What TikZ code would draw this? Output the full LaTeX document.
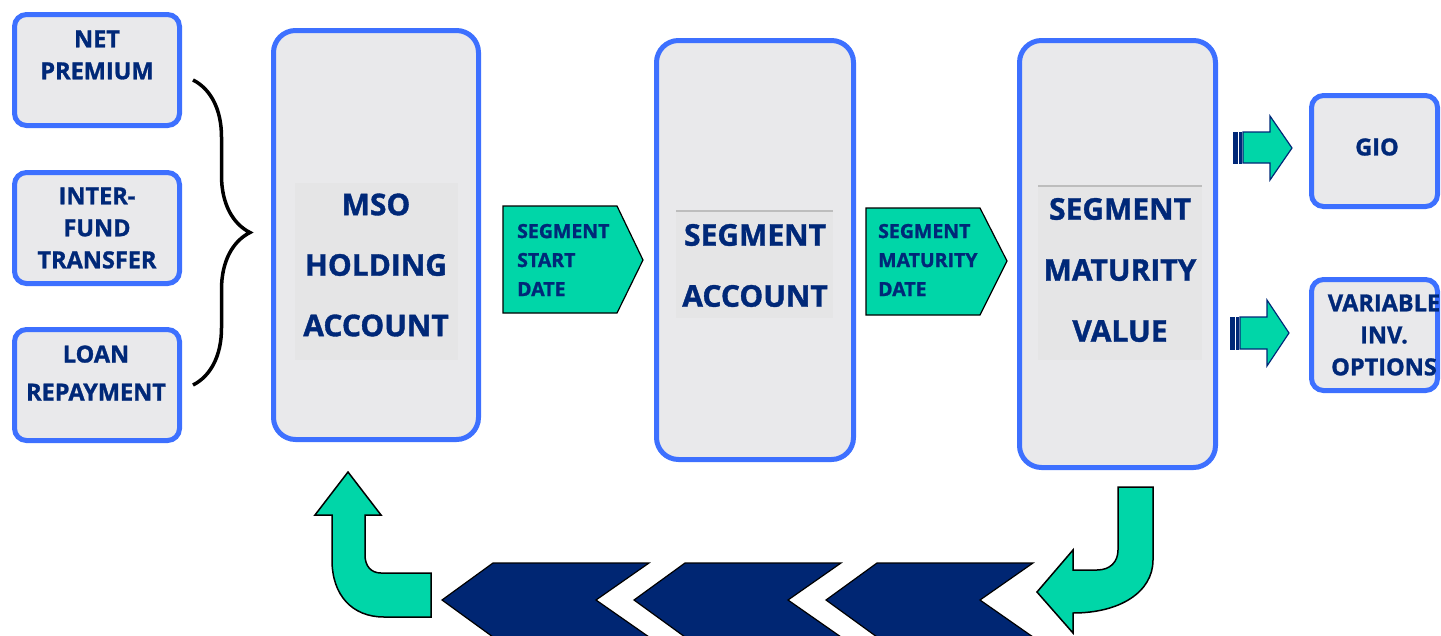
\documentclass[tikz,border=0pt]{standalone}
\usepackage{fontspec}
\setmainfont{Open Sans}[BoldFeatures={FakeBold=1.2}]
\usetikzlibrary{decorations.pathreplacing}
\definecolor{navy}{HTML}{002878}
\definecolor{chevnavy}{HTML}{002673}
\definecolor{flowteal}{HTML}{00D6A8}
\definecolor{boxblue}{HTML}{3D70FF}
\definecolor{boxfill}{HTML}{E9E9EB}
\definecolor{panelfill}{HTML}{E5E5E6}
\definecolor{panelrule}{HTML}{BDBDBD}
\begin{document}
\begin{tikzpicture}[x=1pt,y=-1pt,
  box/.style={draw=boxblue, line width=5pt, fill=boxfill, rounded corners=12pt,
    minimum width=165pt, minimum height=111pt, inner sep=0pt},
  bigbox/.style={box, rounded corners=22pt},
  lbl/.style={text=navy, font=\bfseries\fontsize{23.5}{32}\selectfont, align=center, inner sep=0pt},
  biglbl/.style={text=navy, font=\bfseries\fontsize{30}{61}\selectfont, align=center, inner sep=0pt},
  taglbl/.style={text=navy, font=\bfseries\fontsize{19.5}{29}\selectfont, align=left, inner sep=0pt, anchor=west},
  tag/.style={fill=flowteal, draw=black, line width=1.2pt},
  turnarrow/.style={fill=flowteal, draw=black, line width=1.5pt},
  chev/.style={fill=chevnavy, draw=black, line width=1.2pt},
  fat/.style={fill=flowteal, draw=navy, line width=1.2pt},
  stripe/.style={fill=navy, draw=navy, line width=0.6pt},
  panel/.style={fill=panelfill},
  panelline/.style={draw=panelrule, line width=1.5pt}
]
\useasboundingbox (0,0) rectangle (1441,635);

% source boxes
\node[box] (np)  at (97,70)  {};
\node[box] (ift) at (97,228) {};
\node[box] (lr)  at (97,385) {};
\node[lbl] (np-t)  at (97,55)  {NET\\PREMIUM};
\node[lbl] (ift-t) at (97,228) {INTER-\\FUND\\TRANSFER};
\node[lbl, font=\bfseries\fontsize{23.5}{38}\selectfont] (lr-t) at (96,373) {LOAN\\REPAYMENT};

% brace gathering the sources
\coordinate (br-top) at (193,80);
\coordinate (br-bot) at (193,385);
\draw[line width=3.5pt, decorate, decoration={brace, amplitude=57pt}] (br-top) -- (br-bot);

% main accounts
\node[bigbox, minimum width=205pt, minimum height=409pt] (mso) at (376,235) {};
\fill[panel] (295,183) rectangle (458,360);
\node[biglbl, font=\bfseries\fontsize{30}{60.5}\selectfont] (mso-t) at (376,265) {MSO\\HOLDING\\ACCOUNT};

\node[bigbox, minimum width=197pt, minimum height=419pt] (sa) at (755,250) {};
\fill[panel] (676,211) rectangle (833,318);
\draw[panelline] (676,211) -- (833,211);
\node[biglbl] (sa-t) at (755,265.5) {SEGMENT\\ACCOUNT};

\node[bigbox, minimum width=196pt, minimum height=427pt] (smv) at (1117.5,254) {};
\fill[panel] (1038,186) rectangle (1202,360);
\draw[panelline] (1038,186) -- (1202,186);
\node[biglbl] (smv-t) at (1120,270) {SEGMENT\\MATURITY\\VALUE};

% date tags between the accounts
\draw[tag] (503,206) -- (617,206) -- (643,260) -- (617,313) -- (503,313) -- cycle;
\node[taglbl] (ssd) at (517,260) {SEGMENT\\START\\DATE};
\draw[tag] (866,208) -- (980,208) -- (1007,261) -- (980,315) -- (866,315) -- cycle;
\node[taglbl] (smd) at (878,260) {SEGMENT\\MATURITY\\DATE};

% outcome boxes
\node[box, minimum width=126pt] (gio) at (1374.5,151) {};
\node[lbl] (gio-t) at (1377,147) {GIO};
\node[box, minimum width=126pt] (vio) at (1374.5,335) {};
\node[lbl] (vio-t) at (1384,335) {VARIABLE\\INV.\\OPTIONS};

% striped arrows toward the outcomes
\draw[stripe] (1233,132) rectangle (1237,163);
\draw[stripe] (1239,132) rectangle (1241.5,163);
\draw[fat] (1243,132) -- (1270,132) -- (1270,116) -- (1292,148) -- (1270,180) -- (1270,163) -- (1243,163) -- cycle;
\draw[stripe] (1230,317) rectangle (1234,349);
\draw[stripe] (1236,317) rectangle (1238.5,349);
\draw[fat] (1240,317) -- (1267,317) -- (1267,300) -- (1289,333) -- (1267,366) -- (1267,349) -- (1240,349) -- cycle;

% return path: down-turn, chevrons, up-turn
\draw[turnarrow] (1118,487) -- (1153,487) -- (1153,560)
  .. controls (1153,592) and (1120,613) .. (1073,613)
  -- (1073,633) -- (1037,592) -- (1073,550) -- (1073,570) -- (1097,570)
  .. controls (1110,570) and (1118,562) .. (1118,550) -- cycle;

\foreach \x in {0,192,384} {
  \draw[chev] (442+\x,600) -- (493+\x,563) -- (649+\x,563) -- (596+\x,600)
    -- (649+\x,637) -- (493+\x,637) -- cycle;
}

\draw[turnarrow] (431,573) -- (381,573)
  .. controls (371,573) and (365,566) .. (365,555)
  -- (365,515) -- (381,515) -- (348,472) -- (315,515) -- (332,515) -- (332,560)
  .. controls (332,595) and (352,617) .. (384,617)
  -- (431,617) -- cycle;
\end{tikzpicture}
\end{document}
